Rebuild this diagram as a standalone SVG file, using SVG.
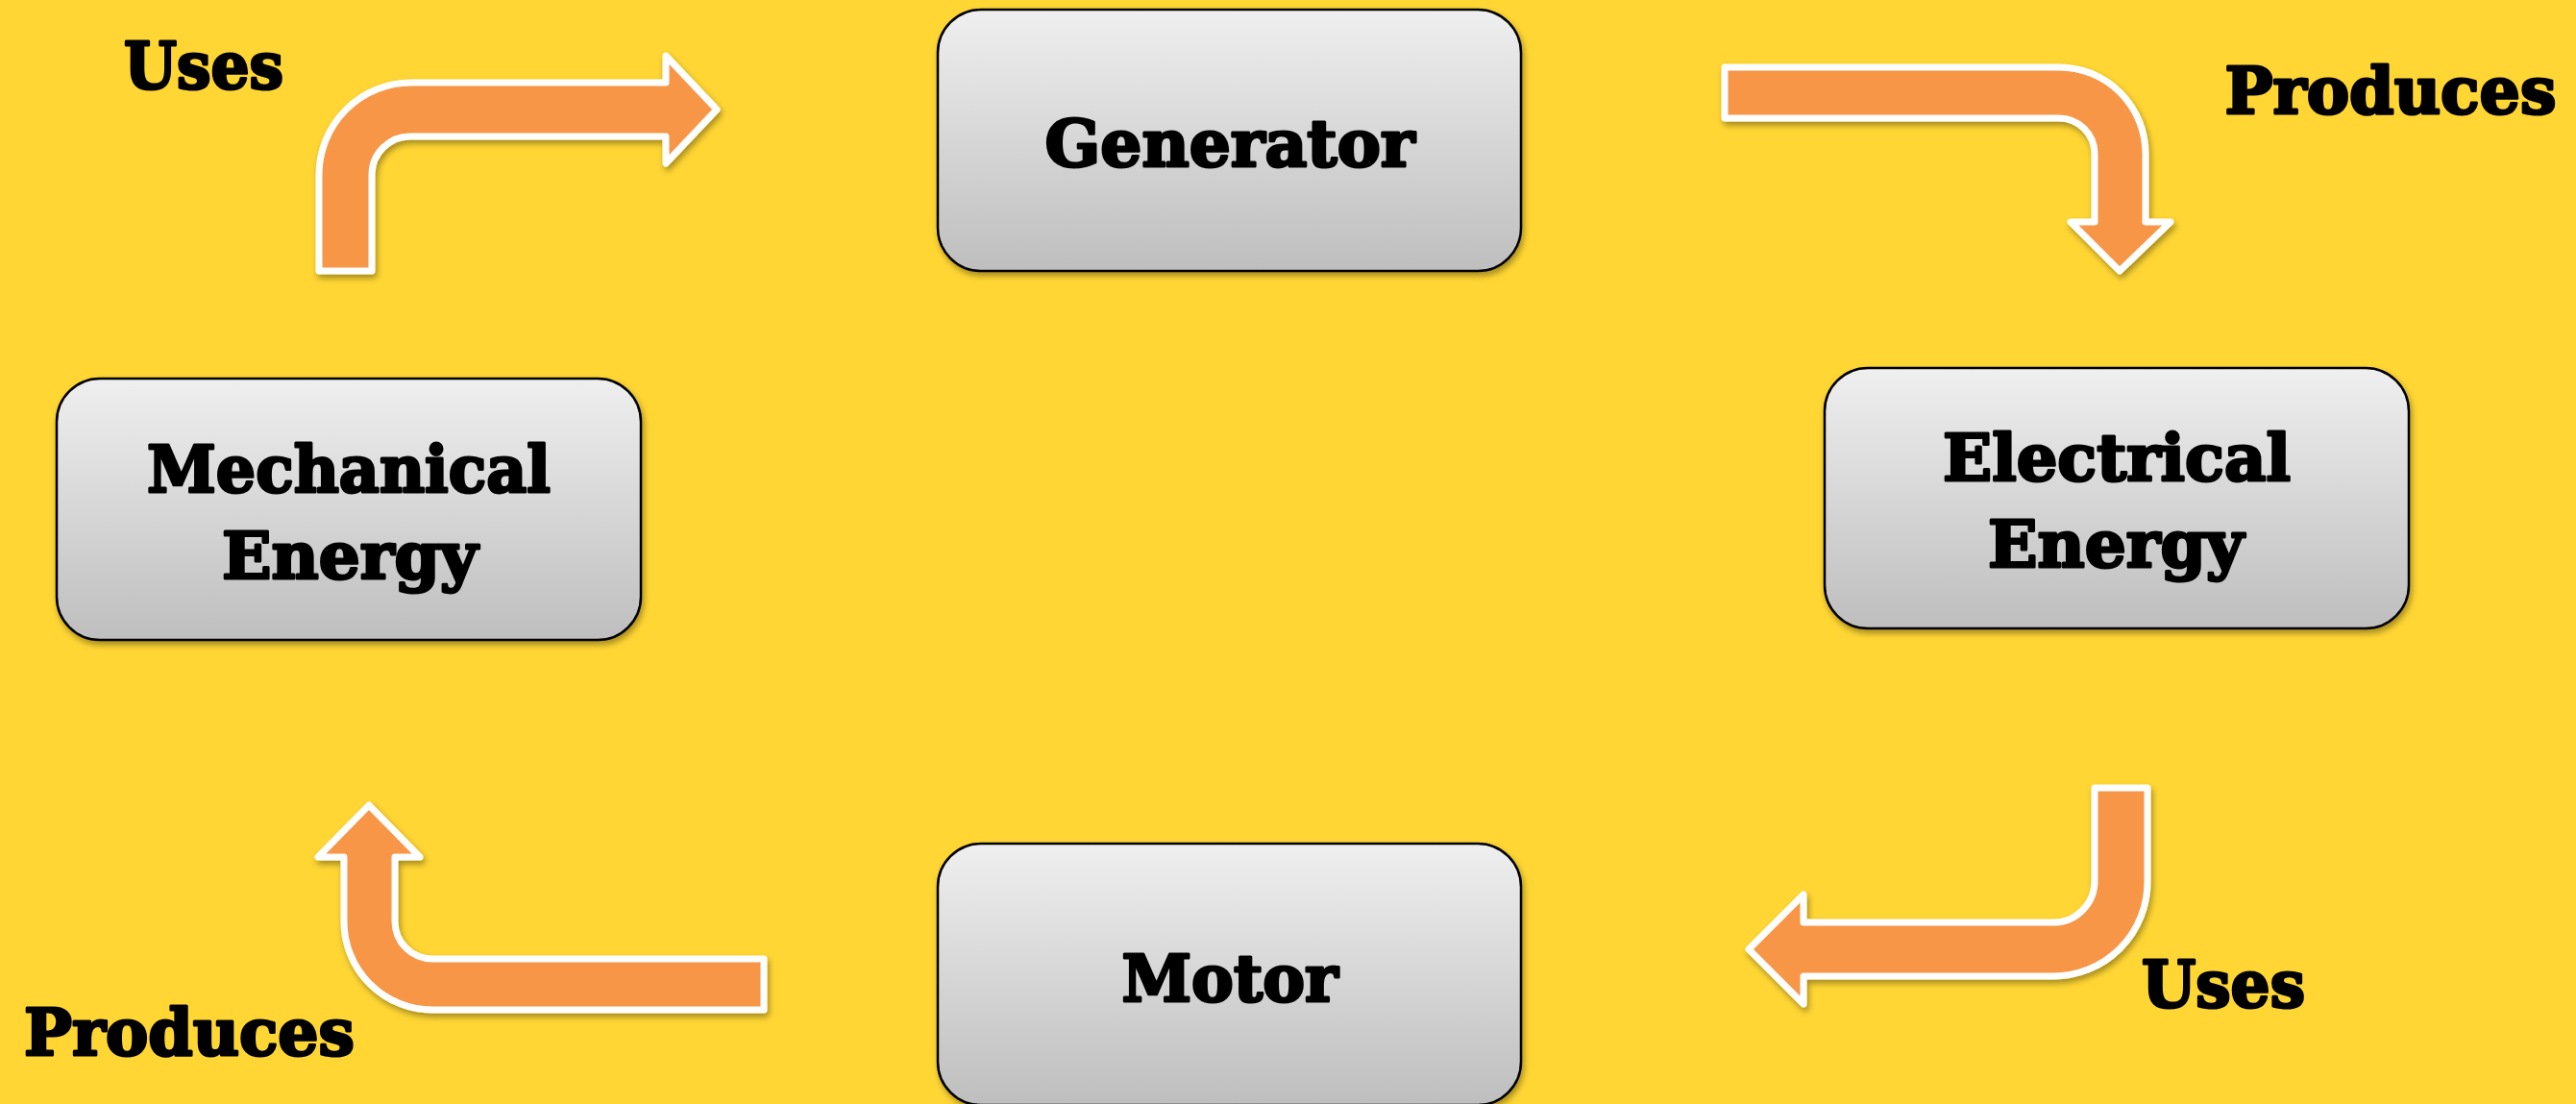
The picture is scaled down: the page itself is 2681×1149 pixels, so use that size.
<svg xmlns="http://www.w3.org/2000/svg" width="2681" height="1149" viewBox="0 0 2681 1149">
<style>
.box{fill:url(#boxGrad);stroke:#000;stroke-width:2.5;filter:url(#shadow)}
.arrow{fill:#F79646;stroke:#fff;stroke-width:7;stroke-linejoin:round;filter:url(#shadow)}
.lbl{font-family:"DejaVu Serif","Liberation Serif",serif;font-weight:bold;font-size:68px;fill:#000;stroke:#000;stroke-width:3;stroke-linejoin:round;text-anchor:middle}
</style>
<defs>
<linearGradient id="boxGrad" x1="0" y1="0" x2="0" y2="1">
<stop offset="0" stop-color="#EFEFEF"/>
<stop offset="1" stop-color="#BEBEBE"/>
</linearGradient>
<filter id="shadow" x="-10%" y="-10%" width="120%" height="130%">
<feDropShadow dx="2" dy="4" stdDeviation="3" flood-color="#000" flood-opacity="0.35"/>
</filter>
</defs>
<rect x="0" y="0" width="2681" height="1149" fill="#FFD633"/>

<g id="connectors">
<g id="arrow-mech-to-gen">
<path class="arrow" d="M 332 282 L 332 182 A 96 96 0 0 1 428 86 L 693 86 L 693 58 L 746 114 L 693 170 L 693 142 L 428 142 A 40 40 0 0 0 387 182 L 387 282 Z"/>
<text class="lbl" x="212" y="92" textLength="166" lengthAdjust="spacingAndGlyphs">Uses</text>
</g>
<g id="arrow-gen-to-elec">
<path class="arrow" d="M 1795 70 L 2143 70 A 90 90 0 0 1 2233 160 L 2233 231 L 2259 231 L 2206 282 L 2155 231 L 2180 231 L 2180 160 A 37 37 0 0 0 2143 123 L 1795 123 Z"/>
<text class="lbl" x="2488" y="118" textLength="345" lengthAdjust="spacingAndGlyphs">Produces</text>
</g>
<g id="arrow-elec-to-motor">
<path class="arrow" d="M 2180 820 L 2235 820 L 2235 918 A 98 98 0 0 1 2137 1016 L 1877 1016 L 1877 1045 L 1820 988 L 1877 931 L 1877 960 L 2137 960 A 43 43 0 0 0 2180 917 Z"/>
<text class="lbl" x="2314" y="1048" textLength="170" lengthAdjust="spacingAndGlyphs">Uses</text>
</g>
<g id="arrow-motor-to-mech">
<path class="arrow" d="M 795 998 L 450 998 A 39 39 0 0 1 411 959 L 411 892 L 437 892 L 384 838 L 331 892 L 358 892 L 358 959 A 92 92 0 0 0 450 1051 L 795 1051 Z"/>
<text class="lbl" x="197" y="1098" textLength="344" lengthAdjust="spacingAndGlyphs">Produces</text>
</g>
</g>

<g id="node-generator">
<rect class="box" x="976" y="10" width="607" height="272" rx="45" ry="45"/>
<text class="lbl" x="1280" y="173" textLength="385" lengthAdjust="spacingAndGlyphs">Generator</text>
</g>
<g id="node-mechanical">
<rect class="box" x="59" y="394" width="608" height="272" rx="45" ry="45"/>
<text class="lbl" x="363" y="512" textLength="420" lengthAdjust="spacingAndGlyphs">Mechanical</text>
<text class="lbl" x="364" y="602" textLength="266" lengthAdjust="spacingAndGlyphs">Energy</text>
</g>
<g id="node-electrical">
<rect class="box" x="1899" y="383" width="608" height="271" rx="45" ry="45"/>
<text class="lbl" x="2203" y="500" textLength="362" lengthAdjust="spacingAndGlyphs">Electrical</text>
<text class="lbl" x="2202" y="590" textLength="266" lengthAdjust="spacingAndGlyphs">Energy</text>
</g>
<g id="node-motor">
<rect class="box" x="976" y="878" width="607" height="272" rx="45" ry="45"/>
<text class="lbl" x="1280" y="1042" textLength="225" lengthAdjust="spacingAndGlyphs">Motor</text>
</g>
</svg>
